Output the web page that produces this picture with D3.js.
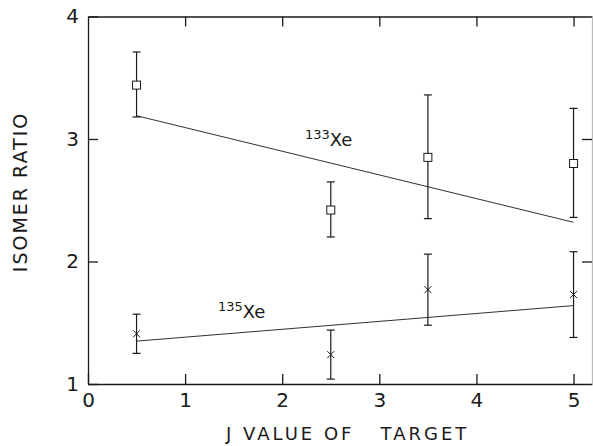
<!DOCTYPE html>
<html>
<head>
<meta charset="utf-8">
<script src="https://cdn.jsdelivr.net/npm/d3@7"></script>
<style>
  body { margin: 0; background: #fff; }
  svg { display: block; font-family: "DejaVu Sans", sans-serif; }
</style>
</head>
<body>
<svg width="593" height="446"></svg>
<script>
// J values of target
var jValues = [0.5, 2.5, 3.5, 5];

// 133Xe isomer ratios and error limits
var xe133 = [3.44, 2.42, 2.85, 2.80];
var xe133Lo = [3.18, 2.20, 2.35, 2.36];
var xe133Hi = [3.71, 2.65, 3.36, 3.25];
var xe133Fit = [3.19, 2.32]; // at J = 0.5 and 5

// 135Xe isomer ratios and error limits
var xe135 = [1.41, 1.24, 1.77, 1.73];
var xe135Lo = [1.25, 1.04, 1.48, 1.38];
var xe135Hi = [1.57, 1.44, 2.06, 2.08];
var xe135Fit = [1.35, 1.64];

var xTicks = [0, 1, 2, 3, 4, 5];
var yTicks = [1, 2, 3, 4];

var ink = "#1a1a1a";
var svg = d3.select("svg");

var x = d3.scaleLinear().domain([0, 5.19]).range([88, 592]);
var y = d3.scaleLinear().domain([1, 4]).range([384, 16.5]);

// axes, ticks pointing inward
function styleAxis(g) {
  g.selectAll("path,line").attr("stroke", ink).attr("stroke-width", 1.3);
  g.selectAll("text").attr("fill", ink).attr("font-size", 20)
    .attr("font-family", "DejaVu Sans, sans-serif");
}

svg.append("g")
  .attr("transform", "translate(0," + y(1) + ")")
  .call(d3.axisBottom(x).tickValues(xTicks).tickSizeInner(-10).tickSizeOuter(0)
    .tickPadding(9).tickFormat(d3.format("d")))
  .call(styleAxis);

svg.append("g")
  .attr("transform", "translate(" + x(0) + ",0)")
  .call(d3.axisLeft(y).tickValues(yTicks).tickSizeInner(-10).tickSizeOuter(0)
    .tickPadding(9).tickFormat(d3.format("d")))
  .call(styleAxis);

svg.append("g")
  .attr("transform", "translate(0," + y(4) + ")")
  .call(d3.axisTop(x).tickValues([1, 2, 3, 4, 5]).tickSizeInner(-10).tickSizeOuter(0)
    .tickFormat(""))
  .call(styleAxis);

svg.append("g")
  .attr("transform", "translate(" + x(5.19) + ",0)")
  .call(d3.axisRight(y).tickValues([2, 3]).tickSizeInner(-10).tickSizeOuter(0)
    .tickFormat(""))
  .call(styleAxis)
  .select(".domain").attr("stroke", "#bbb");

// fitted lines
var fitX = [jValues[0], jValues[jValues.length - 1]];
[xe133Fit, xe135Fit].forEach(function (fit) {
  svg.append("line")
    .attr("x1", x(fitX[0])).attr("y1", y(fit[0]))
    .attr("x2", x(fitX[1])).attr("y2", y(fit[1]))
    .attr("stroke", ink).attr("stroke-width", 0.9);
});

// error bars
function errorBars(vals, lo, hi) {
  var g = svg.append("g").attr("stroke", ink).attr("stroke-width", 1.2).attr("fill", "none");
  jValues.forEach(function (j, i) {
    var cx = x(j);
    g.append("line").attr("x1", cx).attr("x2", cx).attr("y1", y(lo[i])).attr("y2", y(hi[i]));
    g.append("line").attr("x1", cx - 4).attr("x2", cx + 4).attr("y1", y(lo[i])).attr("y2", y(lo[i]));
    g.append("line").attr("x1", cx - 4).attr("x2", cx + 4).attr("y1", y(hi[i])).attr("y2", y(hi[i]));
  });
  return g;
}

var g133 = errorBars(xe133, xe133Lo, xe133Hi);
jValues.forEach(function (j, i) {
  g133.append("rect")
    .attr("x", x(j) - 4).attr("y", y(xe133[i]) - 4)
    .attr("width", 8).attr("height", 8)
    .attr("fill", "#fff").attr("stroke-width", 1);
});

var g135 = errorBars(xe135, xe135Lo, xe135Hi);
jValues.forEach(function (j, i) {
  var cx = x(j), cy = y(xe135[i]);
  g135.append("path")
    .attr("d", "M" + (cx - 3.5) + "," + (cy - 3.5) + "L" + (cx + 3.5) + "," + (cy + 3.5) +
      "M" + (cx - 3.5) + "," + (cy + 3.5) + "L" + (cx + 3.5) + "," + (cy - 3.5))
    .attr("stroke-width", 1);
});

// series labels
function isoLabel(mass, px, py) {
  var t = svg.append("text").attr("x", px).attr("y", py)
    .attr("fill", ink).attr("font-size", 18);
  t.append("tspan").attr("font-size", 13).attr("dy", -7).text(mass);
  t.append("tspan").attr("dy", 7).text("Xe");
}
isoLabel("133", 305, 146);
isoLabel("135", 218, 318);

// axis titles
svg.append("text")
  .attr("x", 226).attr("y", 440)
  .attr("fill", ink).attr("font-size", 18).attr("letter-spacing", 3)
  .style("white-space", "pre")
  .text("J VALUE OF   TARGET");

svg.append("text")
  .attr("transform", "translate(27,192) rotate(-90)")
  .attr("text-anchor", "middle")
  .attr("fill", ink).attr("font-size", 19).attr("letter-spacing", 2)
  .text("ISOMER RATIO");
</script>
</body>
</html>
